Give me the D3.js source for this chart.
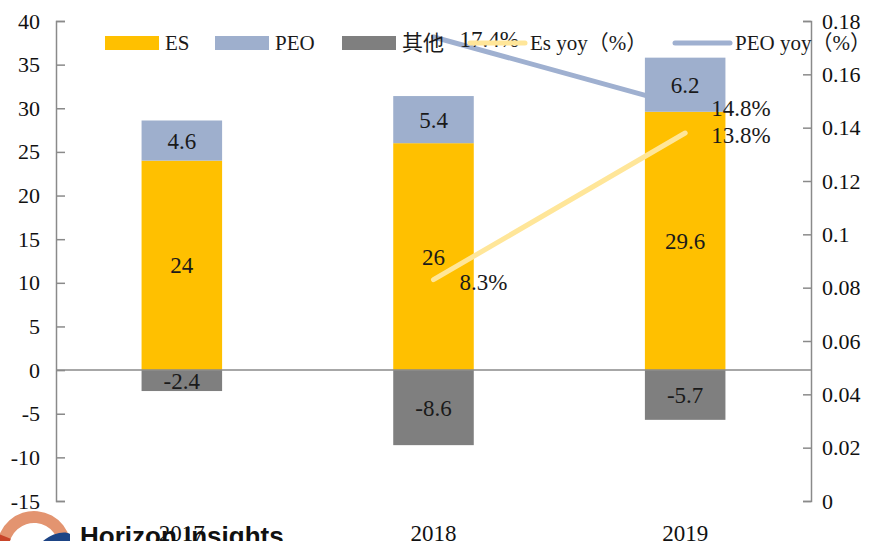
<!DOCTYPE html>
<html>
<head>
<meta charset="utf-8">
<script src="https://cdn.jsdelivr.net/npm/d3@7"></script>
<style>
  body { margin: 0; background: #fff; }
  svg { display: block; font-family: "Liberation Serif", "Noto Sans CJK SC", serif; }
</style>
</head>
<body>
<div id="chart"></div>
<script>
var years = ['2017', '2018', '2019'];
var esValues = [24, 26, 29.6];
var peoValues = [4.6, 5.4, 6.2];
var otherValues = [-2.4, -8.6, -5.7];
var esYoy = [null, 0.083, 0.138];
var peoYoy = [null, 0.174, 0.148];
var leftTicks = [-15, -10, -5, 0, 5, 10, 15, 20, 25, 30, 35, 40];
var rightTicks = [0, 0.02, 0.04, 0.06, 0.08, 0.1, 0.12, 0.14, 0.16, 0.18];

var width = 869;
var height = 541;
var plotLeft = 56, plotRight = 811, plotTop = 21, plotBottom = 501;

var svg = d3.select('#chart')
    .append('svg')
    .attr('width', width)
    .attr('height', height);

var x = d3.scaleBand()
    .domain(years)
    .range([plotLeft, plotRight])
    .paddingInner(0.68)
    .paddingOuter(0.34);

var y = d3.scaleLinear().domain([-15, 40]).range([plotBottom, plotTop]);
var y2 = d3.scaleLinear().domain([0, 0.18]).range([plotBottom, plotTop]);

var axisColor = '#8a8a8a';

// left axis, ticks pointing inside
var leftAxis = svg.append('g')
    .attr('transform', 'translate(' + plotLeft + ',0)')
    .call(d3.axisLeft(y)
        .tickValues(leftTicks)
        .tickFormat(function (d) { return String(d); })
        .tickSizeInner(-9)
        .tickSizeOuter(-9)
        .tickPadding(16));

var rightAxis = svg.append('g')
    .attr('transform', 'translate(' + plotRight + ',0)')
    .call(d3.axisRight(y2)
        .tickValues(rightTicks)
        .tickFormat(function (d) { return String(+d.toFixed(2)); })
        .tickSizeInner(-8)
        .tickSizeOuter(-8)
        .tickPadding(11));

[leftAxis, rightAxis].forEach(function (a) {
    a.selectAll('path, line').attr('stroke', axisColor).attr('stroke-width', 1.5);
    a.selectAll('text')
        .attr('fill', '#111')
        .style('font-size', '22px')
        .style('font-family', '"Liberation Serif", serif');
});

// category labels
var bottomAxis = svg.append('g')
    .attr('transform', 'translate(0,' + plotBottom + ')')
    .call(d3.axisBottom(x).tickSize(0).tickPadding(24));
bottomAxis.select('.domain').remove();
bottomAxis.selectAll('text')
    .attr('fill', '#111')
    .style('font-size', '23px')
    .style('font-family', '"Liberation Serif", serif');

// PEO yoy line sits behind the bars
var line = function (yScale) {
    return d3.line()
        .defined(function (d) { return d.v != null; })
        .x(function (d) { return x(d.year) + x.bandwidth() / 2; })
        .y(function (d) { return yScale(d.v); });
};

var peoData = years.map(function (yr, i) { return { year: yr, v: peoYoy[i] }; });
var esData = years.map(function (yr, i) { return { year: yr, v: esYoy[i] }; });

svg.append('path')
    .datum(peoData)
    .attr('d', line(y2))
    .attr('fill', 'none')
    .attr('stroke', '#9fb0d0')
    .attr('stroke-width', 5)
    .attr('stroke-linecap', 'round');

// stacked bars
var rows = years.map(function (yr, i) {
    return { year: yr, ES: esValues[i], PEO: peoValues[i], other: otherValues[i] };
});
var keys = ['ES', 'PEO', 'other'];
var colors = { ES: '#ffc000', PEO: '#9eafcd', other: '#7f7f7f' };

var series = d3.stack()
    .keys(keys)
    .offset(d3.stackOffsetDiverging)(rows);

var groups = svg.selectAll('.series')
    .data(series)
    .enter()
    .append('g')
    .attr('class', 'series')
    .attr('fill', function (d) { return colors[d.key]; });

groups.selectAll('rect')
    .data(function (d) { return d; })
    .enter()
    .append('rect')
    .attr('x', function (d) { return x(d.data.year); })
    .attr('y', function (d) { return y(Math.max(d[0], d[1])); })
    .attr('width', x.bandwidth())
    .attr('height', function (d) { return Math.abs(y(d[0]) - y(d[1])); });

// zero line
svg.append('line')
    .attr('x1', plotLeft)
    .attr('x2', plotRight)
    .attr('y1', y(0))
    .attr('y2', y(0))
    .attr('stroke', axisColor)
    .attr('stroke-width', 1.5);

groups.selectAll('text')
    .data(function (d) { return d.map(function (p) { return { p: p, key: d.key }; }); })
    .enter()
    .append('text')
    .attr('x', function (d) { return x(d.p.data.year) + x.bandwidth() / 2; })
    .attr('y', function (d) { return y((d.p[0] + d.p[1]) / 2); })
    .attr('dy', '0.35em')
    .attr('text-anchor', 'middle')
    .attr('fill', '#1a1a1a')
    .style('font-size', '23px')
    .text(function (d) { return String(d.p.data[d.key]); });

// Es yoy line over the bars
svg.append('path')
    .datum(esData)
    .attr('d', line(y2))
    .attr('fill', 'none')
    .attr('stroke', '#ffe699')
    .attr('stroke-width', 5)
    .attr('stroke-linecap', 'round');

// line labels
function pct(v) { return (v * 100).toFixed(1) + '%'; }
[peoData, esData].forEach(function (data) {
    svg.selectAll(null)
        .data(data.filter(function (d) { return d.v != null; }))
        .enter()
        .append('text')
        .attr('x', function (d) { return x(d.year) + x.bandwidth() / 2 + 26; })
        .attr('y', function (d) { return y2(d.v) + 2; })
        .attr('dy', '0.35em')
        .attr('fill', '#1a1a1a')
        .style('font-size', '23px')
        .text(function (d) { return pct(d.v); });
});

// legend
var legendItems = [
    { label: 'ES', type: 'rect', color: colors.ES, x: 105 },
    { label: 'PEO', type: 'rect', color: colors.PEO, x: 215 },
    { label: '其他', type: 'rect', color: colors.other, x: 342 },
    { label: 'Es yoy（%）', type: 'line', color: '#ffe699', x: 468 },
    { label: 'PEO yoy（%）', type: 'line', color: '#9fb0d0', x: 673 }
];

var legend = svg.selectAll('.legend')
    .data(legendItems)
    .enter()
    .append('g')
    .attr('class', 'legend')
    .attr('transform', function (d) { return 'translate(' + d.x + ',43)'; });

legend.filter(function (d) { return d.type === 'rect'; })
    .append('rect')
    .attr('y', -7)
    .attr('width', 54)
    .attr('height', 14)
    .attr('fill', function (d) { return d.color; });

legend.filter(function (d) { return d.type === 'line'; })
    .append('line')
    .attr('x1', 2)
    .attr('x2', 57)
    .attr('stroke', function (d) { return d.color; })
    .attr('stroke-width', 5)
    .attr('stroke-linecap', 'round');

legend.append('text')
    .attr('x', function (d) { return d.type === 'rect' ? 60 : 62; })
    .attr('dy', '0.35em')
    .attr('fill', '#1a1a1a')
    .style('font-size', '21px')
    .text(function (d) { return d.label; });

// watermark logo in the corner
var logo = svg.append('g').attr('transform', 'translate(34,548)');
logo.append('path')
    .attr('d', d3.arc().innerRadius(25).outerRadius(37).startAngle(-Math.PI * 0.62).endAngle(Math.PI * 0.42)())
    .attr('fill', '#e39470');
logo.append('path')
    .attr('d', d3.arc().innerRadius(25).outerRadius(37).startAngle(-Math.PI * 0.62).endAngle(-Math.PI * 0.38)())
    .attr('fill', '#c8452a');
logo.append('path')
    .attr('d', 'M4,-2 C14,-14 30,-18 36,-14 L36,0 L4,0 Z')
    .attr('fill', '#1d4485');

svg.append('text')
    .attr('x', 80)
    .attr('y', 545)
    .attr('fill', '#111')
    .style('font-family', '"Liberation Sans", Arial, sans-serif')
    .style('font-weight', 'bold')
    .style('font-size', '26px')
    .text('Horizon Insights');
</script>
</body>
</html>
